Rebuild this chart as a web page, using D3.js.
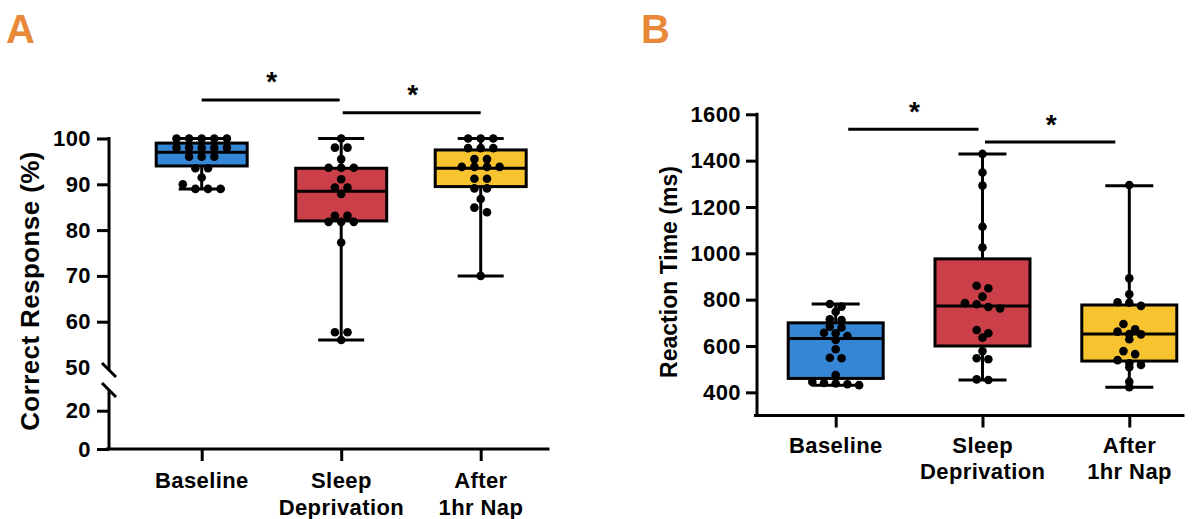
<!DOCTYPE html>
<html>
<head>
<meta charset="utf-8">
<script src="https://cdn.jsdelivr.net/npm/d3@7/dist/d3.min.js"></script>
<style>
  html, body { margin: 0; padding: 0; background: #fff; }
  svg { display: block; font-family: "Liberation Sans", Arial, sans-serif; font-weight: bold; }
</style>
</head>
<body>
<svg id="fig" width="1201" height="519"></svg>
<script>
// ---- data ----
const categories = ["Baseline", "Sleep\nDeprivation", "After\n1hr Nap"];
const boxColors = ["#3686d6", "#cb3f48", "#f7c430"];

// Panel A: correct response (%)
const accBaseline = [100, 100, 100, 100, 100, 98, 98, 98, 98, 98, 96, 96, 96, 93.5, 93.5, 91.5, 90, 89, 89, 89];
const accSleepDep = [100, 98, 98, 95.5, 93.6, 93.6, 93.6, 91.1, 89.3, 89.3, 87.9, 83.1, 83.1, 81.8, 81.8, 81.8, 77.3, 57.7, 57.7, 56];
const accNap      = [100, 100, 100, 97.9, 97.9, 97.9, 95.5, 95.5, 93.8, 93.8, 93.8, 93.8, 91.2, 91.2, 89.1, 89.1, 86.8, 84.9, 83.9, 70];
// box summaries: [whisker low, Q1, median, Q3, whisker high]
const accBoxBaseline = [89, 94, 97, 99, 100];
const accBoxSleepDep = [56, 82, 88.5, 93.5, 100];
const accBoxNap      = [70, 89.5, 93.5, 97.5, 100];
const accTicksUpper = [50, 60, 70, 80, 90, 100];
const accTicksLower = [0, 20];
const accSigLevels = [108.4, 105.6];

// Panel B: reaction time (ms)
const rtBaseline = [781, 770, 748, 715, 712, 683, 680, 657, 655, 643, 626, 586, 549, 547, 475, 445, 440, 438, 435, 431];
const rtSleepDep = [1429, 1349, 1292, 1115, 1025, 860, 849, 813, 785, 780, 768, 762, 669, 655, 636, 578, 547, 543, 456, 453];
const rtNap      = [1295, 892, 823, 789, 787, 773, 695, 672, 662, 652, 650, 629, 578, 565, 539, 525, 518, 508, 446, 422];
const rtBoxBaseline = [431, 460, 632, 700, 781];
const rtBoxSleepDep = [453, 600, 773, 976, 1429];
const rtBoxNap      = [422, 535, 652, 777, 1292];
const rtTicks = [400, 600, 800, 1000, 1200, 1400, 1600];
const rtSigLevels = [1536, 1480];

// ---- drawing ----
const svg = d3.select("#fig");
const FONT = 22, LS = 0.4, LW = 3;

function label(g, x, y, txt, size, anchor, ls) {
  return g.append("text").attr("x", x).attr("y", y).attr("font-size", size)
    .attr("text-anchor", anchor || "middle").attr("letter-spacing", ls == null ? LS : ls)
    .attr("fill", "#000").text(txt);
}

// Simple row-based dot layout: points within binPx vertically share a row, centred around the box axis
function swarm(values, y, step, binPx) {
  const pts = values.map(v => ({ v, py: y(v) })).sort((a, b) => a.py - b.py);
  const rows = [];
  let cur = null;
  pts.forEach(p => {
    if (!cur || p.py - cur.start > binPx) { cur = { start: p.py, pts: [] }; rows.push(cur); }
    cur.pts.push(p);
  });
  rows.forEach(r => r.pts.forEach((p, i) => { p.dx = (i - (r.pts.length - 1) / 2) * step; }));
  return pts;
}

function drawBoxes(g, x, y, boxes, points, boxW, capW, step) {
  boxes.forEach((b, i) => {
    const cx = x(categories[i]);
    const [lo, q1, med, q3, hi] = b;
    g.append("line").attr("x1", cx).attr("x2", cx).attr("y1", y(lo)).attr("y2", y(hi))
      .attr("stroke", "#000").attr("stroke-width", LW);
    [lo, hi].forEach(v => g.append("line").attr("x1", cx - capW / 2).attr("x2", cx + capW / 2)
      .attr("y1", y(v)).attr("y2", y(v)).attr("stroke", "#000").attr("stroke-width", LW));
    g.append("rect").attr("x", cx - boxW / 2).attr("y", y(q3)).attr("width", boxW)
      .attr("height", y(q1) - y(q3)).attr("fill", boxColors[i]).attr("stroke", "#000").attr("stroke-width", LW);
    g.append("line").attr("x1", cx - boxW / 2).attr("x2", cx + boxW / 2).attr("y1", y(med)).attr("y2", y(med))
      .attr("stroke", "#000").attr("stroke-width", LW);
    swarm(points[i], y, step, 5.5).forEach(p => {
      g.append("circle").attr("cx", cx + p.dx).attr("cy", p.py).attr("r", 4.3).attr("fill", "#000");
    });
  });
}

function xAxis(g, x, y0, xStart, xEnd, labelOffset, lineGap) {
  const ax = g.append("g").attr("transform", `translate(0,${y0})`)
    .call(d3.axisBottom(x).tickSize(12).tickPadding(6).tickFormat(""));
  ax.select(".domain").remove();
  ax.selectAll(".tick line").attr("stroke", "#000").attr("stroke-width", LW);
  g.append("line").attr("x1", xStart).attr("x2", xEnd).attr("y1", y0).attr("y2", y0)
    .attr("stroke", "#000").attr("stroke-width", LW).attr("stroke-linecap", "square");
  categories.forEach(c => {
    c.split("\n").forEach((line, k) => label(g, x(c) + LS / 2, y0 + labelOffset + k * lineGap, line, FONT));
  });
}

function yTicks(g, axisGen) {
  const ax = g.call(axisGen);
  ax.select(".domain").remove();
  ax.selectAll(".tick line").attr("stroke", "#000").attr("stroke-width", LW);
  ax.selectAll(".tick text").attr("font-size", FONT).attr("font-family", null)
    .attr("letter-spacing", LS).attr("fill", "#000").attr("font-weight", "bold");
}

function sigBar(g, x1, x2, yy) {
  g.append("line").attr("x1", x1).attr("x2", x2).attr("y1", yy).attr("y2", yy)
    .attr("stroke", "#000").attr("stroke-width", LW);
  g.append("text").attr("x", (x1 + x2) / 2 + 1).attr("y", yy - 24 + 0.55 * 28)
    .attr("font-size", 28).attr("text-anchor", "middle").attr("fill", "#000").text("*");
}

// ---- Panel A ----
{
  const g = svg.append("g");
  const axisX = 109;
  const x = d3.scalePoint().domain(categories).range([201.7, 480.7]);
  const yUp = d3.scaleLinear().domain([50, 100]).range([367.5, 138.5]);
  const yLow = d3.scaleLinear().domain([0, 20]).range([449, 410.7]);
  const y = v => (v >= 50 ? yUp(v) : yLow(v));

  // axis segments with a break between 20 and 50
  g.append("line").attr("x1", axisX).attr("x2", axisX).attr("y1", yUp(100) - 1.5).attr("y2", 370)
    .attr("stroke", "#000").attr("stroke-width", LW);
  g.append("line").attr("x1", axisX).attr("x2", axisX).attr("y1", 390).attr("y2", yLow(0))
    .attr("stroke", "#000").attr("stroke-width", LW);
  [370, 390].forEach(cy => g.append("line").attr("x1", axisX - 7).attr("x2", axisX + 7)
    .attr("y1", cy - 7).attr("y2", cy + 7).attr("stroke", "#000").attr("stroke-width", LW));

  yTicks(g.append("g").attr("transform", `translate(${axisX},0)`),
    d3.axisLeft(yUp).tickValues(accTicksUpper.filter(v => v > 50)).tickSize(12).tickPadding(6));
  // "50" label sits at the break without a tick mark
  label(g, axisX - 18 - LS, yUp(50) + 7.5, "50", FONT, "end");
  yTicks(g.append("g").attr("transform", `translate(${axisX},0)`),
    d3.axisLeft(yLow).tickValues(accTicksLower).tickSize(12).tickPadding(6));

  xAxis(g, x, yLow(0), axisX - 1.5, 548, 39, 27);
  drawBoxes(g, x, y, [accBoxBaseline, accBoxSleepDep, accBoxNap], [accBaseline, accSleepDep, accNap], 91, 46, 12.6);

  sigBar(g, x(categories[0]), x(categories[1]) - 1.5, yUp(accSigLevels[0]));
  sigBar(g, x(categories[1]) + 1.5, x(categories[2]), yUp(accSigLevels[1]));

  g.append("text").attr("transform", "translate(39,291) rotate(-90)").attr("text-anchor", "middle")
    .attr("font-size", 26).attr("letter-spacing", 0.4).attr("fill", "#000").text("Correct Response (%)");
  g.append("text").attr("x", 6).attr("y", 42.5).attr("font-size", 40).attr("fill", "#e8893a").text("A");
}

// ---- Panel B ----
{
  const g = svg.append("g");
  const axisX = 757;
  const x = d3.scalePoint().domain(categories).range([835.7, 1129.3]);
  const y = d3.scaleLinear().domain([300, 1600]).range([415.5, 114.3]);

  g.append("line").attr("x1", axisX).attr("x2", axisX).attr("y1", y(1600) - 1.5).attr("y2", y(300))
    .attr("stroke", "#000").attr("stroke-width", LW);
  yTicks(g.append("g").attr("transform", `translate(${axisX},0)`),
    d3.axisLeft(y).tickValues(rtTicks).tickFormat(d3.format("d")).tickSize(11).tickPadding(5));

  xAxis(g, x, y(300), axisX - 1.5, 1183, 37, 26);
  drawBoxes(g, x, y, [rtBoxBaseline, rtBoxSleepDep, rtBoxNap], [rtBaseline, rtSleepDep, rtNap], 95, 48, 11.7);

  sigBar(g, x(categories[0]) + 12.5, x(categories[1]) - 4, y(rtSigLevels[0]));
  sigBar(g, x(categories[1]) + 2.5, x(categories[2]) - 14, y(rtSigLevels[1]));

  g.append("text").attr("transform", "translate(677,272) rotate(-90)").attr("text-anchor", "middle")
    .attr("font-size", 23).attr("fill", "#000").text("Reaction Time (ms)");
  g.append("text").attr("x", 641).attr("y", 42.5).attr("font-size", 40).attr("fill", "#e8893a").text("B");
}
</script>
</body>
</html>
